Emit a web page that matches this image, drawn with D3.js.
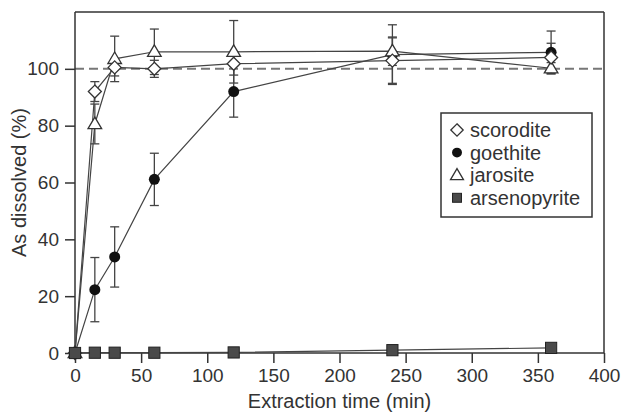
<!DOCTYPE html>
<html><head><meta charset="utf-8">
<script src="https://cdn.jsdelivr.net/npm/d3@7"></script>
<style>body{margin:0;background:#fff}svg{display:block}text{font-family:"Liberation Sans",Arial,sans-serif;fill:#333}</style>
</head><body>
<script>
const times = [0, 15, 30, 60, 120, 240, 360];
const scorodite = [0, 92, 100.5, 100, 101.8, 102.9, 104];
const scoroditeErr = [0, 3.5, 3, 3, 4, 8, 5];
const goethite = [0, 22.3, 33.8, 61.1, 92, 105, 105.8];
const goethiteErr = [0, 11.3, 10.6, 9.2, 9, 10.5, 7.5];
const jarosite = [0, 80.6, 103.5, 106, 106, 106.2, 100.2];
const jarositeErr = [0, 7, 8, 8, 11, 5, 2];
const arsenopyrite = [0, 0.1, 0.1, 0.1, 0.2, 1.0, 1.8];
const xTicks = [0, 50, 100, 150, 200, 250, 300, 350, 400];
const yTicks = [0, 20, 40, 60, 80, 100];
const legendLabels = ["scorodite", "goethite", "jarosite", "arsenopyrite"];

const W = 622, H = 414;
const m = {left: 75, right: 18, top: 12, bottom: 61};
const svg = d3.select("body").append("svg").attr("width", W).attr("height", H);
const x = d3.scaleLinear().domain([0, 400]).range([m.left, W - m.right]);
const y = d3.scaleLinear().domain([0, 120]).range([H - m.bottom, m.top]);
const ink = "#333";

// frame top/right
svg.append("line").attr("x1", x(0)).attr("x2", x(400)).attr("y1", y(120)).attr("y2", y(120)).attr("stroke", ink).attr("stroke-width", 1.5);
svg.append("line").attr("x1", x(400)).attr("x2", x(400)).attr("y1", y(120)).attr("y2", y(0)).attr("stroke", ink).attr("stroke-width", 1.5);

// dashed 100% line
svg.append("line").attr("x1", x(0)).attr("x2", x(400)).attr("y1", y(100)).attr("y2", y(100))
  .attr("stroke", "#777").attr("stroke-width", 2).attr("stroke-dasharray", "9,5");

const xa = svg.append("g").attr("transform", `translate(0,${y(0)})`)
  .call(d3.axisBottom(x).tickValues(xTicks).tickSize(10).tickPadding(6).tickSizeOuter(0));
const ya = svg.append("g").attr("transform", `translate(${x(0)},0)`)
  .call(d3.axisLeft(y).tickValues(yTicks).tickSize(10).tickPadding(6).tickSizeOuter(0));
[xa, ya].forEach(a => {
  a.select(".domain").attr("stroke", ink).attr("stroke-width", 1.5);
  a.selectAll(".tick line").attr("stroke", ink).attr("stroke-width", 1.5);
  a.selectAll("text").attr("font-size", 19).attr("fill", ink).style("font-family", '"Liberation Sans",Arial,sans-serif');
});
ya.select(".domain").attr("d", `M0,${y(0)}V${y(120)}`);
xa.select(".domain").attr("d", `M${x(0)},0H${x(400)}`);

svg.append("text").attr("x", (x(0) + x(400)) / 2).attr("y", 408).attr("text-anchor", "middle").attr("font-size", 20).text("Extraction time (min)");
svg.append("text").attr("transform", `translate(26,${(y(0) + y(120)) / 2}) rotate(-90)`).attr("text-anchor", "middle").attr("font-size", 20).text("As dissolved (%)");

const series = [
  {name: "goethite", v: goethite, e: goethiteErr},
  {name: "jarosite", v: jarosite, e: jarositeErr},
  {name: "scorodite", v: scorodite, e: scoroditeErr},
  {name: "arsenopyrite", v: arsenopyrite, e: null}
];
const line = d3.line().x(d => x(d[0])).y(d => y(d[1]));
series.forEach(s => {
  svg.append("path").attr("d", line(times.map((t, i) => [t, s.v[i]]))).attr("fill", "none").attr("stroke", "#444").attr("stroke-width", 1.2);
});
series.forEach(s => {
  if (!s.e) return;
  times.forEach((t, i) => {
    if (!s.e[i]) return;
    const g = svg.append("g").attr("stroke", "#444").attr("stroke-width", 1.3);
    const cx = x(t), y1 = y(s.v[i] + s.e[i]), y2 = y(s.v[i] - s.e[i]);
    g.append("line").attr("x1", cx).attr("x2", cx).attr("y1", y1).attr("y2", y2);
    g.append("line").attr("x1", cx - 4.5).attr("x2", cx + 4.5).attr("y1", y1).attr("y2", y1);
    g.append("line").attr("x1", cx - 4.5).attr("x2", cx + 4.5).attr("y1", y2).attr("y2", y2);
  });
});

function marker(g, name, cx, cy, s) {
  s = s || 1;
  if (name === "scorodite") {
    const r = 6.5 * s;
    g.append("path").attr("d", `M${cx},${cy - r}L${cx + r},${cy}L${cx},${cy + r}L${cx - r},${cy}Z`).attr("fill", "#fff").attr("stroke", "#333").attr("stroke-width", 1.3);
  } else if (name === "goethite") {
    g.append("circle").attr("cx", cx).attr("cy", cy).attr("r", 5.5 * s).attr("fill", "#111");
  } else if (name === "jarosite") {
    const w = 6.8 * s, h = 11.5 * s;
    g.append("path").attr("d", `M${cx},${cy - h * 0.6}L${cx + w},${cy + h * 0.4}L${cx - w},${cy + h * 0.4}Z`).attr("fill", "#fff").attr("stroke", "#333").attr("stroke-width", 1.3);
  } else {
    const a = 5.6 * s;
    g.append("rect").attr("x", cx - a).attr("y", cy - a).attr("width", 2 * a).attr("height", 2 * a).attr("fill", "#4a4a4a").attr("stroke", "#222").attr("stroke-width", 1);
  }
}
series.forEach(s => {
  const g = svg.append("g");
  times.forEach((t, i) => marker(g, s.name, x(t), y(s.v[i])));
});

// legend
const lg = svg.append("g");
lg.append("rect").attr("x", 441).attr("y", 113).attr("width", 151).attr("height", 104).attr("fill", "#fff").attr("stroke", ink).attr("stroke-width", 1.5);
legendLabels.forEach((n, i) => {
  const cy = 130 + i * 22.6;
  marker(lg, n, 457, cy, n === "goethite" ? 0.9 : n === "arsenopyrite" ? 0.8 : 0.95);
  lg.append("text").attr("x", 470).attr("y", cy + 7).attr("font-size", 20).text(n);
});
</script>
</body></html>
